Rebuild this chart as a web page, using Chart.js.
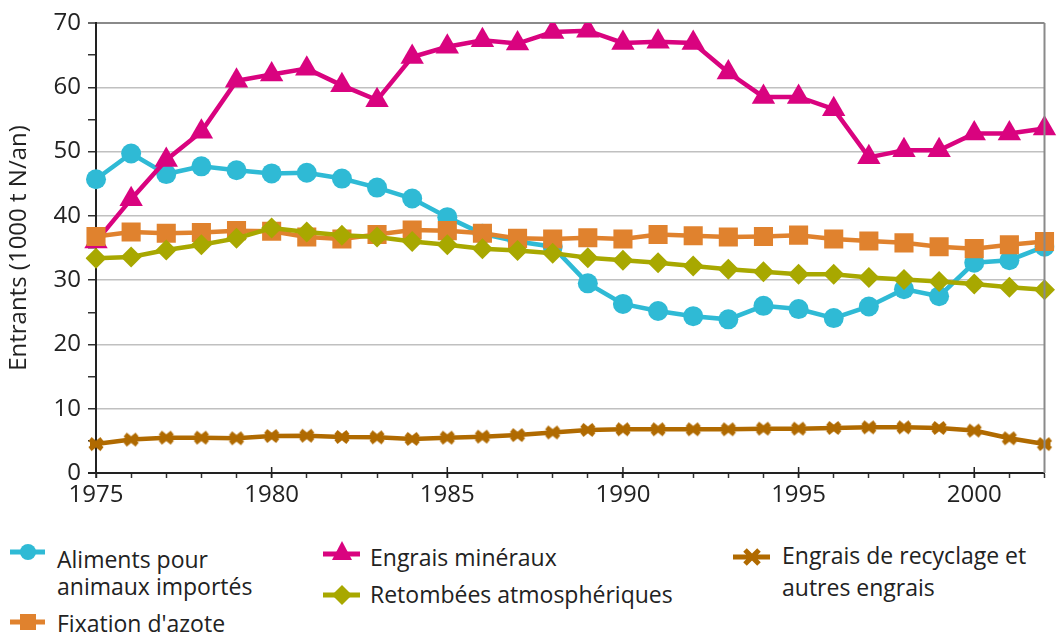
<!DOCTYPE html>
<html>
<head>
<meta charset="utf-8">
<script src="https://cdn.jsdelivr.net/npm/chart.js@4.4.1/dist/chart.umd.min.js"></script>
<style>
    body { margin: 0; background: #fff; }
    #wrap { position: relative; width: 1058px; height: 634px; overflow: hidden; font-family: "Open Sans", sans-serif; color: #222; }
    #chartCanvas { position: absolute; left: 0; top: 0; }
    .leg { position: absolute; font-size: 23px; line-height: 27px; white-space: nowrap; }
    .ico { position: absolute; }
</style>
</head>
<body>
<div id="wrap">
    <canvas id="chartCanvas" width="1058" height="520"></canvas>

    <svg class="ico" style="left:8px;top:540px" width="40" height="24">
        <line x1="2" y1="12" x2="37" y2="12" stroke="#2fbad5" stroke-width="5"/>
        <circle cx="20" cy="12" r="8" fill="#2fbad5"/>
    </svg>
    <div class="leg" style="left:57px;top:546px">Aliments pour<br>animaux importés</div>

    <svg class="ico" style="left:8px;top:610px" width="40" height="24">
        <line x1="2" y1="12" x2="37" y2="12" stroke="#e0822e" stroke-width="5"/>
        <rect x="12" y="4" width="16" height="16" fill="#e0822e"/>
    </svg>
    <div class="leg" style="left:57px;top:610px">Fixation d'azote</div>

    <svg class="ico" style="left:321px;top:539px" width="42" height="26">
        <line x1="2" y1="15" x2="39" y2="15" stroke="#d9037f" stroke-width="5"/>
        <polygon points="21,2 31,21 11,21" fill="#d9037f"/>
    </svg>
    <div class="leg" style="left:370px;top:544px">Engrais minéraux</div>

    <svg class="ico" style="left:321px;top:583px" width="42" height="24">
        <line x1="2" y1="12" x2="39" y2="12" stroke="#a8a800" stroke-width="5"/>
        <polygon points="21,2 31,12 21,22 11,12" fill="#a8a800"/>
    </svg>
    <div class="leg" style="left:370px;top:581px">Retombées atmosphériques</div>

    <svg class="ico" style="left:731px;top:545px" width="42" height="24">
        <line x1="2" y1="12" x2="39" y2="12" stroke="#b06a00" stroke-width="5"/>
        <path d="M14 5 L28 19 M28 5 L14 19" stroke="#b06a00" stroke-width="5"/>
        <rect x="15" y="9" width="12" height="6" fill="#b06a00"/>
    </svg>
    <div class="leg" style="left:782px;top:539px;line-height:32px">Engrais de recyclage et<br>autres engrais</div>
</div>

<script>
const years = [];
for (let y = 1975; y <= 2002; y++) years.push(String(y));

const aliments = [45.7, 49.7, 46.5, 47.7, 47.1, 46.6, 46.7, 45.8, 44.4, 42.7,
    39.8, 37.2, 36.0, 35.2, 29.5, 26.3, 25.2, 24.4, 23.9, 26.0,
    25.5, 24.1, 25.9, 28.6, 27.5, 32.7, 33.1, 35.2];
const engraisMineraux = [36.0, 42.6, 48.7, 53.1, 61.0, 62.0, 62.9, 60.3, 58.0, 64.7,
    66.3, 67.3, 66.8, 68.6, 68.8, 66.9, 67.1, 66.9, 62.3, 58.5,
    58.5, 56.6, 49.1, 50.2, 50.2, 52.8, 52.8, 53.6];
const fixation = [36.8, 37.5, 37.3, 37.4, 37.7, 37.6, 36.7, 36.4, 37.1, 37.8,
    37.7, 37.3, 36.5, 36.4, 36.6, 36.4, 37.1, 36.9, 36.7, 36.8,
    37.0, 36.4, 36.1, 35.8, 35.2, 34.9, 35.5, 36.0];
const retombees = [33.4, 33.6, 34.7, 35.5, 36.5, 38.1, 37.5, 37.0, 36.7, 36.0,
    35.5, 34.9, 34.6, 34.2, 33.5, 33.1, 32.7, 32.2, 31.7, 31.3,
    30.9, 30.9, 30.4, 30.1, 29.8, 29.4, 28.9, 28.5];
const recyclage = [4.5, 5.2, 5.5, 5.5, 5.4, 5.75, 5.8, 5.6, 5.55, 5.3,
    5.5, 5.65, 5.9, 6.3, 6.7, 6.8, 6.8, 6.8, 6.8, 6.9,
    6.9, 7.0, 7.1, 7.1, 7.0, 6.6, 5.4, 4.5];

// marker for the recycling series: a chunky cross
function starMarker(color) {
    const c = document.createElement('canvas');
    c.width = 18; c.height = 16;
    const g = c.getContext('2d');
    g.strokeStyle = color;
    g.fillStyle = color;
    g.lineWidth = 5;
    g.beginPath();
    g.moveTo(3, 3); g.lineTo(15, 13);
    g.moveTo(15, 3); g.lineTo(3, 13);
    g.stroke();
    g.fillRect(3, 5, 12, 6);
    return c;
}

function series(label, data, color, style, radius, order) {
    return {
        label: label,
        data: data,
        borderColor: color,
        backgroundColor: color,
        borderWidth: 4.5,
        pointStyle: style,
        pointRadius: radius,
        pointHoverRadius: radius,
        pointBorderWidth: 0,
        tension: 0,
        order: order
    };
}

const frame = {
    id: 'frame',
    afterDraw(chart) {
        const { ctx, chartArea } = chart;
        const x = chart.scales.x;
        ctx.save();
        // right border
        ctx.strokeStyle = '#8a8a8a';
        ctx.lineWidth = 2;
        ctx.beginPath();
        ctx.moveTo(chartArea.right, chartArea.top);
        ctx.lineTo(chartArea.right, chartArea.bottom);
        ctx.stroke();
        // long ticks every 5 years, crossing the axis
        ctx.strokeStyle = '#222';
        ctx.lineWidth = 1.5;
        years.forEach((yr, i) => {
            if (+yr % 5 === 0) {
                const px = x.getPixelForValue(i);
                ctx.beginPath();
                ctx.moveTo(px, chartArea.bottom - 6);
                ctx.lineTo(px, chartArea.bottom + 5);
                ctx.stroke();
            }
        });
        // axis line runs a bit to the left of the y axis
        ctx.lineWidth = 2;
        ctx.beginPath();
        ctx.moveTo(chartArea.left - 8, chartArea.bottom);
        ctx.lineTo(chartArea.left, chartArea.bottom);
        ctx.stroke();
        ctx.restore();
    }
};

const ctx = document.getElementById('chartCanvas').getContext('2d');
new Chart(ctx, {
    type: 'line',
    data: {
        labels: years,
        datasets: [
            series('Aliments pour animaux importés', aliments, '#2fbad5', 'circle', 10, 3),
            series('Fixation d\'azote', fixation, '#e0822e', 'rect', 13.5, 1),
            series('Engrais minéraux', engraisMineraux, '#d9037f', 'triangle', 13.5, 2),
            series('Retombées atmosphériques', retombees, '#a8a800', 'rectRot', 10.5, 0),
            series('Engrais de recyclage et autres engrais', recyclage, '#b06a00', starMarker('#b06a00'), 8, 4)
        ]
    },
    options: {
        responsive: false,
        animation: false,
        layout: { padding: { top: 23, right: 3, bottom: 0, left: 0 } },
        plugins: {
            legend: { display: false },
            tooltip: { enabled: false }
        },
        scales: {
            x: {
                offset: false,
                border: { color: '#222', width: 2 },
                grid: {
                    drawOnChartArea: false,
                    drawTicks: true,
                    tickLength: 5,
                    tickColor: '#333',
                    tickWidth: 1.5
                },
                ticks: {
                    autoSkip: false,
                    maxRotation: 0,
                    padding: 3,
                    color: '#222',
                    font: { family: 'Open Sans', size: 24 },
                    callback: function (value, index) {
                        const yr = +years[index];
                        return yr % 5 === 0 ? String(yr) : '';
                    }
                },
                afterFit: function (scale) { scale.height = 47; }
            },
            y: {
                min: 0,
                max: 70,
                border: { color: '#222', width: 2 },
                grid: {
                    color: function (c) {
                        const v = c.tick.value;
                        if (v === 70) return '#8a8a8a';
                        if (v > 0 && v % 10 === 0) return '#c0c0c0';
                        return 'rgba(0,0,0,0)';
                    },
                    lineWidth: function (c) { return c.tick.value === 70 ? 2 : 1.5; },
                    tickLength: 8,
                    tickColor: '#333',
                    tickWidth: 1.5
                },
                ticks: {
                    stepSize: 5,
                    padding: 7,
                    color: '#222',
                    font: { family: 'Open Sans', size: 24 },
                    callback: function (value) { return value % 10 === 0 ? value : ''; }
                },
                title: {
                    display: true,
                    text: 'Entrants (1000 t N/an)',
                    color: '#222',
                    font: { family: 'Open Sans', size: 24 },
                    padding: { top: 5, bottom: 0 }
                },
                afterFit: function (scale) { scale.width = 96; }
            }
        }
    },
    plugins: [frame]
});
</script>
</body>
</html>
